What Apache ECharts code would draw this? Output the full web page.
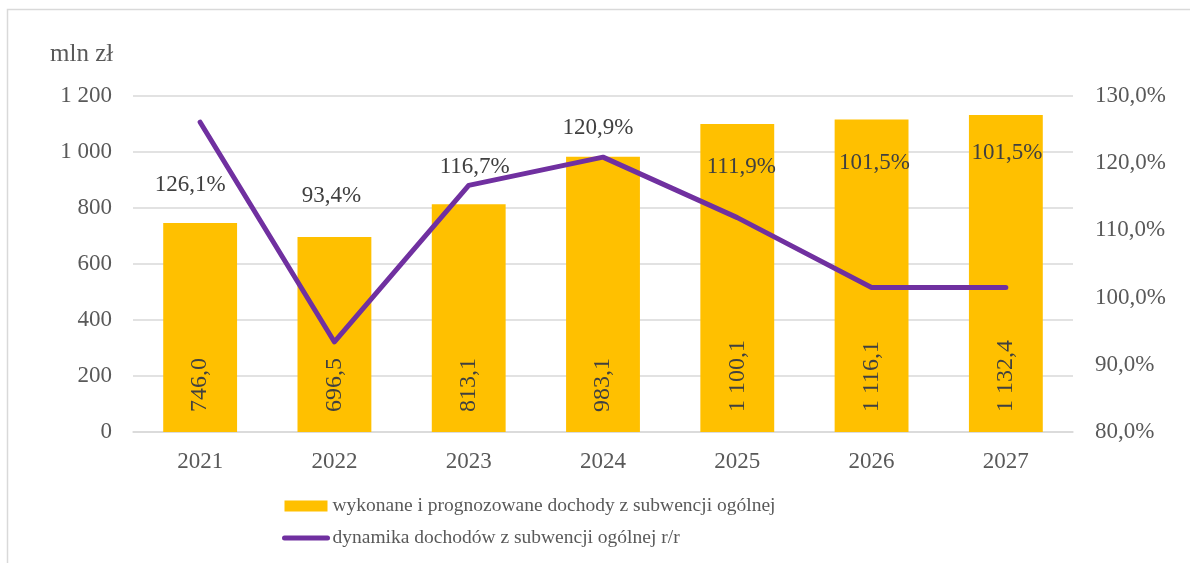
<!DOCTYPE html>
<html><head><meta charset="utf-8">
<script src="https://cdn.jsdelivr.net/npm/echarts@6/dist/echarts.min.js"></script>
<style>html,body{margin:0;padding:0;background:#fff}#c{width:1190px;height:563px}</style>
</head><body><div id="c"></div>
<script>
const categories = ['2021','2022','2023','2024','2025','2026','2027'];
const incomeValues = [746.0, 696.5, 813.1, 983.1, 1100.1, 1116.1, 1132.4];
const dynamicsValues = [126.1, 93.4, 116.7, 120.9, 111.9, 101.5, 101.5];
const leftTicks = {min: 0, max: 1200, interval: 200};
const rightTicks = {min: 80, max: 130, interval: 10};
const seriesNames = ['wykonane i prognozowane dochody z subwencji ogólnej', 'dynamika dochodów z subwencji ogólnej r/r'];
const lineLabelOffsets = [[-10, 63], [-3, -146], [6, -18], [-5, -29], [4, -51], [3, -125], [1, -135]];

const FONT = '"Liberation Serif", "Times New Roman", serif';
function fmtNum(v, dec) {
  const s = v.toFixed(dec).split('.');
  const int = s[0].replace(/\B(?=(\d{3})+(?!\d))/g, ' ');
  return dec ? int + ',' + s[1] : int;
}
const chart = echarts.init(document.getElementById('c'));
chart.setOption({
  animation: false,
  backgroundColor: '#fff',
  textStyle: {fontFamily: FONT},
  graphic: [{type: 'rect', shape: {x: 7.5, y: 9.5, width: 1400, height: 800}, style: {fill: 'none', stroke: '#d9d9d9', lineWidth: 1.5}, silent: true}],
  title: {text: 'mln zł', left: 45, top: 37, textStyle: {fontFamily: FONT, fontSize: 25, fontWeight: 'normal', color: '#595959'}},
  grid: {left: 133, right: 117, top: 96, bottom: 131},
  legend: {
    orient: 'vertical', left: 277, top: 491, itemWidth: 43, itemHeight: 11, itemGap: 12,
    textStyle: {fontFamily: FONT, fontSize: 19.5, color: '#595959'},
    data: [
      {name: seriesNames[0], icon: 'rect'},
      {name: seriesNames[1], itemStyle: {opacity: 0}, lineStyle: {width: 5, color: '#7030A0', cap: 'round'}}
    ]
  },
  xAxis: {
    type: 'category', data: categories,
    axisLine: {lineStyle: {color: '#d9d9d9', width: 1.5}}, axisTick: {show: false},
    axisLabel: {fontFamily: FONT, fontSize: 23, color: '#595959', margin: 18}
  },
  yAxis: [{
    type: 'value', min: leftTicks.min, max: leftTicks.max, interval: leftTicks.interval,
    axisLine: {show: false}, axisTick: {show: false},
    splitLine: {lineStyle: {color: '#d9d9d9', width: 1.5}},
    axisLabel: {fontFamily: FONT, fontSize: 23, color: '#595959', margin: 21, formatter: v => fmtNum(v, 0)}
  }, {
    type: 'value', min: rightTicks.min, max: rightTicks.max, interval: rightTicks.interval,
    axisLine: {show: false}, axisTick: {show: false}, splitLine: {show: false},
    axisLabel: {fontFamily: FONT, fontSize: 23, color: '#595959', margin: 22, formatter: v => fmtNum(v, 1) + '%'}
  }],
  series: [{
    name: seriesNames[0], type: 'bar', data: incomeValues, barWidth: '55%', yAxisIndex: 0,
    itemStyle: {color: '#FFC000'},
    label: {show: true, position: 'insideBottom', rotate: 90, align: 'left', verticalAlign: 'middle', distance: 20,
      fontFamily: FONT, fontSize: 24, color: '#404040', formatter: p => fmtNum(p.value, 1)}
  }, {
    name: seriesNames[1], type: 'line', yAxisIndex: 1, z: 5,
    data: dynamicsValues.map((v, i) => ({value: v, label: {offset: lineLabelOffsets[i]}})),
    symbol: 'circle', symbolSize: 1, showSymbol: true,
    lineStyle: {color: '#7030A0', width: 5, cap: 'round', join: 'round'},
    itemStyle: {color: '#7030A0'},
    label: {show: true, position: 'inside', fontFamily: FONT, fontSize: 23, color: '#404040',
      formatter: p => fmtNum(p.value, 1) + '%'}
  }]
});
</script></body></html>
